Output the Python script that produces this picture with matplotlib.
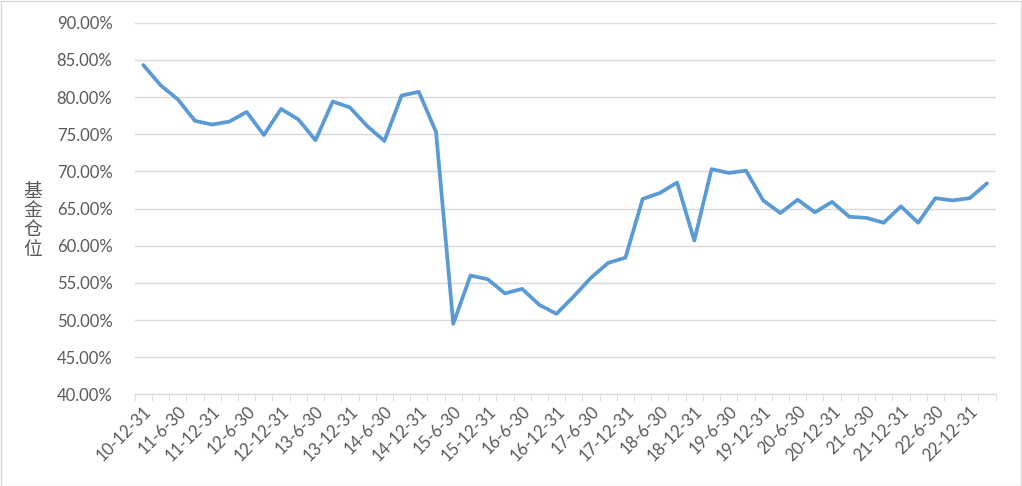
import matplotlib
matplotlib.use("Agg")
import matplotlib.pyplot as plt
from matplotlib.ticker import FixedLocator, FuncFormatter
from matplotlib.patches import Rectangle

quarters = ["10-12-31"]
for yr in range(11, 24):
    for md in ["3-31", "6-30", "9-30", "12-31"]:
        quarters.append(f"{yr}-{md}")
quarters = quarters[:50]

position = [84.3, 81.6, 79.7, 76.8, 76.3, 76.7, 78.0, 74.9, 78.4, 77.0,
            74.2, 79.4, 78.6, 76.1, 74.1, 80.2, 80.7, 75.3, 49.5, 56.0,
            55.5, 53.6, 54.2, 52.05, 50.85, 53.2, 55.7, 57.7, 58.4, 66.3,
            67.1, 68.5, 60.7, 70.3, 69.8, 70.1, 66.1, 64.4, 66.2, 64.5,
            65.9, 63.9, 63.75, 63.1, 65.3, 63.1, 66.4, 66.1, 66.4, 68.4]

y_ticks = [40, 45, 50, 55, 60, 65, 70, 75, 80, 85, 90]
ylabel = "基金仓位"

fig = plt.figure(figsize=(10.22, 4.86), dpi=100)
ax = fig.add_axes([0.1318, 0.1883, 0.8424, 0.765])
fig.patches.append(Rectangle((0.001, 0.001), 0.998, 0.997, transform=fig.transFigure,
                             fill=False, edgecolor="#D9D9D9", linewidth=1.0))

x = list(range(len(position)))
ax.plot(x, position, color="#5B9BD5", linewidth=2.7, solid_joinstyle="round",
        solid_capstyle="round", zorder=3)

ax.set_xlim(-0.5, len(position) - 0.5)
ax.set_ylim(40, 90)
ax.yaxis.set_major_locator(FixedLocator(y_ticks))
ax.yaxis.set_major_formatter(FuncFormatter(lambda v, p: f"{v:.2f}%"))
ax.grid(axis="y", color="#D9D9D9", linewidth=1.0, zorder=0)
ax.set_axisbelow(True)

for s in ["top", "right", "left"]:
    ax.spines[s].set_visible(False)
ax.spines["bottom"].set_color("#D9D9D9")
ax.spines["bottom"].set_linewidth(1.0)

label_idx = list(range(0, len(position), 2))
ax.set_xticks(label_idx)
ax.set_xticklabels([quarters[i] for i in label_idx], rotation=45, ha="right",
                   rotation_mode="anchor", fontsize=12, color="#595959", family="Lato")
ax.tick_params(axis="x", which="major", length=0, pad=6)
ax.set_xticks([i - 0.5 for i in range(len(position) + 1)], minor=True)
ax.tick_params(axis="x", which="minor", length=5, color="#D9D9D9", direction="out")
ax.tick_params(axis="y", length=0, pad=16, labelsize=12, labelcolor="#595959")
for t in ax.get_yticklabels():
    t.set_family("Lato")

ax.set_ylabel("\n".join(ylabel), rotation=0, fontsize=13.5, color="#595959",
              family=["Noto Sans CJK SC", "DejaVu Sans"],
              va="center", ha="center", linespacing=0.9)
ax.yaxis.set_label_coords(-0.118, 0.469)

fig.savefig("out.png", dpi=100)
